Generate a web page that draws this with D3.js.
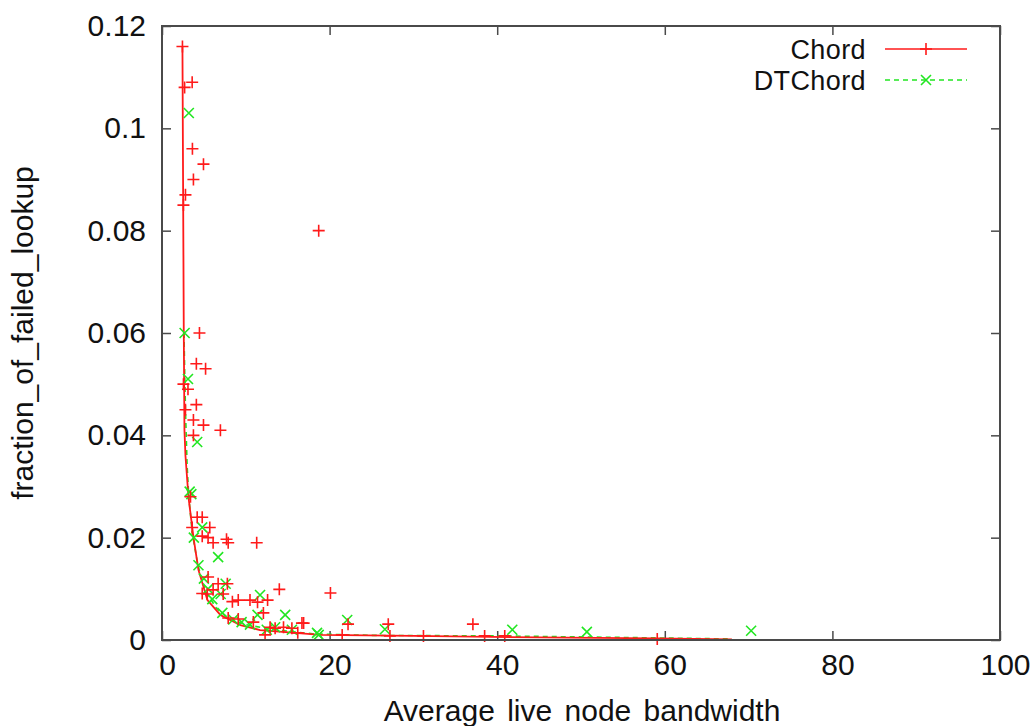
<!DOCTYPE html>
<html>
<head>
<meta charset="utf-8">
<script src="https://cdn.jsdelivr.net/npm/d3@7"></script>
<style>
  html, body { margin: 0; padding: 0; background: #fff; }
  svg { display: block; font-family: "Liberation Sans", Arial, sans-serif; }
</style>
</head>
<body>
<svg id="chart" width="1034" height="726"></svg>
<script>
// Scatter measurements: [average live node bandwidth, fraction of failed lookups]
const chordPoints = [
  [2.44, 0.116], [2.7, 0.108], [3.6, 0.109], [3.63, 0.096], [4.95, 0.093],
  [3.75, 0.090], [2.8, 0.087], [2.56, 0.085], [18.7, 0.080],
  [4.47, 0.060], [4.1, 0.054], [5.2, 0.053], [2.56, 0.050], [3.1, 0.049],
  [4.1, 0.046], [2.8, 0.045], [3.75, 0.043], [4.95, 0.042], [6.97, 0.041],
  [3.75, 0.040], [3.4, 0.028], [4.2, 0.024], [4.8, 0.024], [3.6, 0.022],
  [5.7, 0.022], [4.8, 0.0203], [5.5, 0.020], [6.1, 0.019], [7.7, 0.0197],
  [7.9, 0.019], [11.3, 0.019], [5.5, 0.0123], [6.7, 0.011], [7.8, 0.011],
  [4.8, 0.0091], [5.4, 0.009], [6.1, 0.0098], [7.3, 0.009], [8.4, 0.0075],
  [9.1, 0.0078], [10.5, 0.0078], [11.4, 0.0074], [12.6, 0.0078], [14.0, 0.0099],
  [7.9, 0.0043], [9.1, 0.0041], [12.1, 0.0053], [10.9, 0.0035], [16.7, 0.0033],
  [12.9, 0.0025], [13.5, 0.0023], [14.5, 0.0025], [15.5, 0.0023], [12.3, 0.001],
  [16.2, 0.0014], [20.1, 0.0092], [16.9, 0.0033], [22.2, 0.0031], [27.0, 0.0031],
  [37.1, 0.0031], [21.5, 0.001], [27.2, 0.0008], [31.2, 0.0008], [38.5, 0.0008],
  [40.9, 0.0008], [59.1, 0.0002]
];

const dtChordPoints = [
  [3.2, 0.103], [2.7, 0.060], [3.1, 0.051], [4.2, 0.0387], [3.3, 0.029],
  [3.5, 0.0285], [3.8, 0.020], [4.35, 0.0146], [4.8, 0.022], [5.0, 0.012],
  [5.5, 0.010], [6.0, 0.008], [6.7, 0.0162], [7.0, 0.009], [7.2, 0.0053],
  [7.6, 0.011], [8.5, 0.004], [9.5, 0.0035], [10.5, 0.003], [11.4, 0.0049],
  [11.7, 0.0088], [12.5, 0.002], [13.5, 0.0025], [14.7, 0.0049], [15.5, 0.002],
  [18.5, 0.0014], [18.7, 0.001], [22.1, 0.0039], [26.6, 0.0021], [41.8, 0.002],
  [50.7, 0.0016], [70.3, 0.0018]
];

// Trend lines drawn under each series
const chordTrend = [
  [2.44, 0.116], [2.6, 0.060], [2.68, 0.041], [2.8, 0.036], [3.16, 0.0279],
  [3.75, 0.0201], [4.35, 0.0137], [5.42, 0.0078], [6.97, 0.0049], [9.36, 0.0029],
  [11.7, 0.00195], [18.9, 0.0010], [30, 0.0008], [45, 0.0005], [59, 0.0003], [68, 0.0001]
];

const dtChordTrend = [
  [2.62, 0.060], [2.8, 0.045], [3.0, 0.034], [3.2, 0.028], [3.6, 0.021],
  [4.3, 0.0145], [5.2, 0.0095], [6.5, 0.0062], [8.0, 0.0042], [10.0, 0.0030],
  [13.0, 0.0021], [18.0, 0.0012], [25, 0.0009], [40, 0.0008], [55, 0.0005], [68, 0.0002]
];

const xTicks = [0, 20, 40, 60, 80, 100];
const yTicks = [0, 0.02, 0.04, 0.06, 0.08, 0.1, 0.12];
const yTickLabels = ["0", "0.02", "0.04", "0.06", "0.08", "0.1", "0.12"];
const seriesNames = ["Chord", "DTChord"];
const seriesColors = ["#ff1a1a", "#22e622"];

const svg = d3.select("#chart");
const plotLeft = 162, plotRight = 1000, plotTop = 26, plotBottom = 640;

const x = d3.scaleLinear().domain([0, 100]).range([plotLeft, plotRight]);
const y = d3.scaleLinear().domain([0, 0.12]).range([plotBottom, plotTop]);

const frameColor = "#4a4a4a";
const fontSize = 30;
const legendFontSize = 27;

// Axes (ticks pointing inward, mirrored on top and right)
const xAxis = d3.axisBottom(x).tickValues(xTicks).tickSize(-9).tickPadding(14)
  .tickFormat(d3.format("d"));
const yAxis = d3.axisLeft(y).tickValues(yTicks).tickSize(-9).tickPadding(16)
  .tickFormat((d, i) => yTickLabels[i]);

function styleAxis(g) {
  g.select(".domain").remove();
  g.selectAll(".tick line").attr("stroke", frameColor).attr("stroke-width", 1.5);
  g.selectAll(".tick text").attr("fill", "#111").style("font-size", fontSize + "px")
    .style("font-family", "'Liberation Sans', Arial, sans-serif");
}

svg.append("g").attr("transform", `translate(0,${plotBottom})`).call(xAxis).call(styleAxis)
  .selectAll(".tick text").attr("dx", 5);
svg.append("g").attr("transform", `translate(${plotLeft},0)`).call(yAxis).call(styleAxis);
svg.append("g").attr("transform", `translate(0,${plotTop})`)
  .call(d3.axisTop(x).tickValues(xTicks).tickSize(-9).tickFormat(""))
  .call(styleAxis);
svg.append("g").attr("transform", `translate(${plotRight},0)`)
  .call(d3.axisRight(y).tickValues(yTicks).tickSize(-9).tickFormat(""))
  .call(styleAxis);

// Trend lines
const line = d3.line().x(d => x(d[0])).y(d => y(d[1]));
svg.append("path").datum(dtChordTrend).attr("d", line)
  .attr("fill", "none").attr("stroke", seriesColors[1]).attr("stroke-width", 1.6)
  .attr("stroke-dasharray", "5,4");
svg.append("path").datum(chordTrend).attr("d", line)
  .attr("fill", "none").attr("stroke", seriesColors[0]).attr("stroke-width", 1.8);

// Point markers
const m = 6;
function plus(sel, color) {
  sel.append("path")
    .attr("d", d => `M${x(d[0]) - m},${y(d[1])}h${2 * m}M${x(d[0])},${y(d[1]) - m}v${2 * m}`)
    .attr("stroke", color).attr("stroke-width", 1.6).attr("fill", "none");
}
function cross(sel, color) {
  const k = 5;
  sel.append("path")
    .attr("d", d => `M${x(d[0]) - k},${y(d[1]) - k}l${2 * k},${2 * k}M${x(d[0]) - k},${y(d[1]) + k}l${2 * k},${-2 * k}`)
    .attr("stroke", color).attr("stroke-width", 1.6).attr("fill", "none");
}

svg.append("g").selectAll("g").data(dtChordPoints).join("g").call(cross, seriesColors[1]);
svg.append("g").selectAll("g").data(chordPoints).join("g").call(plus, seriesColors[0]);

// Frame
svg.append("rect").attr("x", plotLeft).attr("y", plotTop)
  .attr("width", plotRight - plotLeft).attr("height", plotBottom - plotTop)
  .attr("fill", "none").attr("stroke", frameColor).attr("stroke-width", 2);

// Axis titles
svg.append("text").attr("x", 582).attr("y", 721)
  .attr("text-anchor", "middle").attr("fill", "#111")
  .style("font-size", fontSize + "px").style("word-spacing", "4px")
  .text("Average live node bandwidth");
svg.append("text")
  .attr("transform", `translate(33,333) rotate(-90)`)
  .attr("text-anchor", "middle").attr("fill", "#111")
  .style("font-size", fontSize + "px")
  .text("fraction_of_failed_lookup");

// Legend
const legendY = [49, 80];
const legend = svg.append("g");
seriesNames.forEach((name, i) => {
  legend.append("text").attr("x", 866).attr("y", legendY[i] + 10)
    .attr("text-anchor", "end").attr("fill", "#111")
    .style("font-size", legendFontSize + "px").style("letter-spacing", "0.4px").text(name);
  legend.append("line").attr("x1", 885).attr("x2", 967)
    .attr("y1", legendY[i]).attr("y2", legendY[i])
    .attr("stroke", seriesColors[i]).attr("stroke-width", 1.6)
    .attr("stroke-dasharray", i === 1 ? "5,4" : null);
});
legend.append("g").datum([x.invert(926), y.invert(legendY[0])]).call(plus, seriesColors[0]);
legend.append("g").datum([x.invert(926), y.invert(legendY[1])]).call(cross, seriesColors[1]);
</script>
</body>
</html>
